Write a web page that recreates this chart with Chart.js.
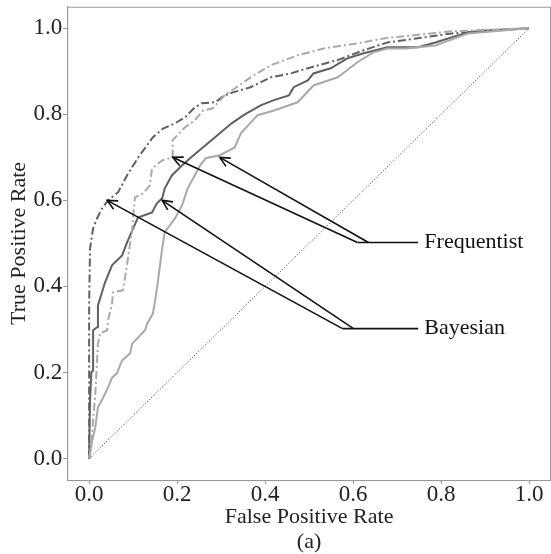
<!DOCTYPE html>
<html>
<head>
<meta charset="utf-8">
<script src="https://cdn.jsdelivr.net/npm/chart.js@4.4.1/dist/chart.umd.min.js"></script>
<style>
  body { margin: 0; background: #fff; }
  #wrap { width: 551px; height: 554px; }
</style>
</head>
<body>
<div id="wrap"><canvas id="rocChart" width="551" height="554"></canvas></div>
<script>
// ROC curves (false positive rate / true positive rate)
const bayesDashFpr = [0, 0, 0.002, 0.009, 0.018, 0.029, 0.043, 0.066, 0.086, 0.1, 0.113, 0.145, 0.168, 0.195, 0.218, 0.24, 0.256, 0.286, 0.308, 0.327, 0.367, 0.413, 0.458, 0.503, 0.565, 0.624, 0.678, 0.825, 1];
const bayesDashTpr = [0, 0.356, 0.488, 0.535, 0.558, 0.581, 0.6, 0.619, 0.658, 0.681, 0.702, 0.747, 0.767, 0.779, 0.793, 0.816, 0.826, 0.828, 0.844, 0.851, 0.863, 0.886, 0.895, 0.909, 0.926, 0.949, 0.967, 0.988, 1];

const freqDashFpr = [0, 0.005, 0.009, 0.014, 0.018, 0.02, 0.025, 0.041, 0.043, 0.052, 0.054, 0.077, 0.086, 0.098, 0.104, 0.122, 0.138, 0.143, 0.166, 0.19, 0.19, 0.218, 0.24, 0.259, 0.281, 0.308, 0.331, 0.367, 0.413, 0.474, 0.533, 0.61, 0.673, 0.825, 1];
const freqDashTpr = [0, 0.03, 0.088, 0.151, 0.228, 0.267, 0.291, 0.298, 0.321, 0.36, 0.386, 0.391, 0.449, 0.535, 0.607, 0.616, 0.635, 0.674, 0.693, 0.7, 0.74, 0.77, 0.786, 0.809, 0.814, 0.844, 0.86, 0.886, 0.914, 0.937, 0.953, 0.965, 0.977, 0.993, 1];

const bayesSolidFpr = [0, 0.002, 0.005, 0.009, 0.009, 0.018, 0.02, 0.036, 0.052, 0.075, 0.086, 0.1, 0.111, 0.143, 0.154, 0.166, 0.172, 0.188, 0.211, 0.234, 0.27, 0.297, 0.324, 0.351, 0.39, 0.42, 0.454, 0.465, 0.497, 0.51, 0.549, 0.587, 0.624, 0.678, 0.748, 0.787, 0.862, 0.9, 1];
const bayesSolidTpr = [0, 0.135, 0.2, 0.205, 0.298, 0.305, 0.356, 0.409, 0.449, 0.472, 0.502, 0.535, 0.56, 0.572, 0.593, 0.605, 0.628, 0.658, 0.681, 0.702, 0.733, 0.756, 0.779, 0.798, 0.821, 0.833, 0.844, 0.863, 0.879, 0.895, 0.907, 0.93, 0.942, 0.956, 0.956, 0.967, 0.991, 0.995, 1];

const freqSolidFpr = [0, 0.002, 0.007, 0.014, 0.02, 0.032, 0.043, 0.052, 0.063, 0.075, 0.093, 0.098, 0.111, 0.127, 0.132, 0.145, 0.15, 0.156, 0.166, 0.172, 0.195, 0.211, 0.224, 0.24, 0.252, 0.265, 0.297, 0.331, 0.345, 0.383, 0.42, 0.474, 0.51, 0.565, 0.61, 0.646, 0.678, 0.719, 0.787, 0.862, 1];
const freqSolidTpr = [0, 0.012, 0.042, 0.072, 0.119, 0.142, 0.165, 0.188, 0.198, 0.228, 0.244, 0.267, 0.281, 0.298, 0.314, 0.337, 0.367, 0.409, 0.488, 0.526, 0.558, 0.588, 0.628, 0.658, 0.681, 0.698, 0.705, 0.723, 0.756, 0.798, 0.809, 0.828, 0.867, 0.886, 0.921, 0.944, 0.953, 0.953, 0.96, 0.988, 1];

// chance line
const chanceFpr = [0, 1];
const chanceTpr = [0, 1];

const tickValues = [0, 0.2, 0.4, 0.6, 0.8, 1.0];

// callouts: label, arrow tips on the curves, elbow points, end of the leader
const noteLabels = ["Frequentist", "Bayesian"];
const noteTips = [[[0.19, 0.7], [0.297, 0.7]], [[0.041, 0.6], [0.166, 0.6]]];
const noteElbows = [[[0.61, 0.502], [0.635, 0.502]], [[0.576, 0.302], [0.601, 0.302]]];
const noteEndX = 0.748;
const noteTextX = 0.762;

const serif = "'Liberation Serif', 'DejaVu Serif', serif";

function toPoints(xs, ys) {
  return xs.map(function(x, i) { return { x: x, y: ys[i] }; });
}

function curve(xs, ys, color, dash) {
  return {
    data: toPoints(xs, ys),
    showLine: true,
    borderColor: color,
    borderWidth: 2,
    borderDash: dash,
    pointRadius: 0,
    tension: 0,
    fill: false
  };
}

//frame on all four sides + the arrows and their labels
const extras = {
  id: "extras",
  beforeDatasetsDraw: function(chart) {
    const a = chart.chartArea;
    const ctx = chart.ctx;
    ctx.save();
    ctx.strokeStyle = "#9a9a9a";
    ctx.lineWidth = 1;
    ctx.strokeRect(a.left + 0.5, a.top + 0.5, a.right - a.left - 1, a.bottom - a.top);
    ctx.restore();
  },
  afterDatasetsDraw: function(chart) {
    const xs = chart.scales.x;
    const ys = chart.scales.y;
    const ctx = chart.ctx;
    ctx.save();
    ctx.strokeStyle = "#111";
    ctx.fillStyle = "#111";
    ctx.lineWidth = 1.6;
    for (let i = 0; i < noteLabels.length; i++) {
      const yLine = ys.getPixelForValue(noteElbows[i][0][1]);
      for (let j = 0; j < noteTips[i].length; j++) {
        const tx = xs.getPixelForValue(noteTips[i][j][0]);
        const ty = ys.getPixelForValue(noteTips[i][j][1]);
        const ex = xs.getPixelForValue(noteElbows[i][j][0]);
        const ey = ys.getPixelForValue(noteElbows[i][j][1]);
        ctx.beginPath();
        ctx.moveTo(ex, ey);
        ctx.lineTo(tx, ty);
        ctx.stroke();
        // open arrow head
        const ang = Math.atan2(ey - ty, ex - tx);
        const len = 11, spread = 0.45;
        ctx.beginPath();
        ctx.moveTo(tx + len * Math.cos(ang - spread), ty + len * Math.sin(ang - spread));
        ctx.lineTo(tx, ty);
        ctx.lineTo(tx + len * Math.cos(ang + spread), ty + len * Math.sin(ang + spread));
        ctx.stroke();
      }
      ctx.beginPath();
      ctx.moveTo(xs.getPixelForValue(noteElbows[i][0][0]), yLine);
      ctx.lineTo(xs.getPixelForValue(noteEndX), yLine);
      ctx.stroke();
      ctx.font = "22px " + serif;
      ctx.textAlign = "left";
      ctx.textBaseline = "middle";
      ctx.fillText(noteLabels[i], xs.getPixelForValue(noteTextX), yLine);
    }
    ctx.restore();
  }
};

const ctx = document.getElementById("rocChart").getContext("2d");
new Chart(ctx, {
  type: "scatter",
  data: {
    datasets: [
      Object.assign(curve(chanceFpr, chanceTpr, "#333", [1, 2]), { borderWidth: 1 }),
      curve(freqSolidFpr, freqSolidTpr, "#a9a9a9", []),
      curve(freqDashFpr, freqDashTpr, "#a9a9a9", [8, 3, 2, 3]),
      curve(bayesSolidFpr, bayesSolidTpr, "#606060", []),
      curve(bayesDashFpr, bayesDashTpr, "#606060", [8, 3, 2, 3])
    ]
  },
  options: {
    responsive: false,
    animation: false,
    devicePixelRatio: 1,
    layout: { padding: { top: 6, right: 0, left: 6, bottom: 0 } },
    plugins: {
      legend: { display: false },
      tooltip: { enabled: false }
    },
    scales: {
      x: {
        type: "linear",
        min: -0.05,
        max: 1.05,
        afterBuildTicks: function(axis) {
          axis.ticks = tickValues.map(function(v) { return { value: v }; });
        },
        ticks: {
          padding: 1,
          color: "#222",
          font: { family: serif, size: 23, lineHeight: 0.85 },
          callback: function(v) { return Number(v).toFixed(1); }
        },
        grid: { drawOnChartArea: false, drawTicks: true, tickLength: 4, color: "#9a9a9a" },
        border: { display: true, color: "#9a9a9a" },
        title: {
          display: true,
          text: ["False Positive Rate", "(a)"],
          color: "#222",
          font: { family: serif, size: 22, lineHeight: 1.1 },
          padding: { top: 0, bottom: 0 }
        }
      },
      y: {
        type: "linear",
        min: -0.05,
        max: 1.05,
        afterBuildTicks: function(axis) {
          axis.ticks = tickValues.map(function(v) { return { value: v }; });
        },
        ticks: {
          padding: 1,
          color: "#222",
          font: { family: serif, size: 23, lineHeight: 0.5 },
          callback: function(v) { return Number(v).toFixed(1); }
        },
        grid: { drawOnChartArea: false, drawTicks: true, tickLength: 4, color: "#9a9a9a" },
        border: { display: true, color: "#9a9a9a" },
        title: {
          display: true,
          text: "True Positive Rate",
          color: "#222",
          font: { family: serif, size: 22, lineHeight: 1.2 },
          padding: { top: 0, bottom: 0 }
        }
      }
    }
  },
  plugins: [extras]
});
</script>
</body>
</html>
